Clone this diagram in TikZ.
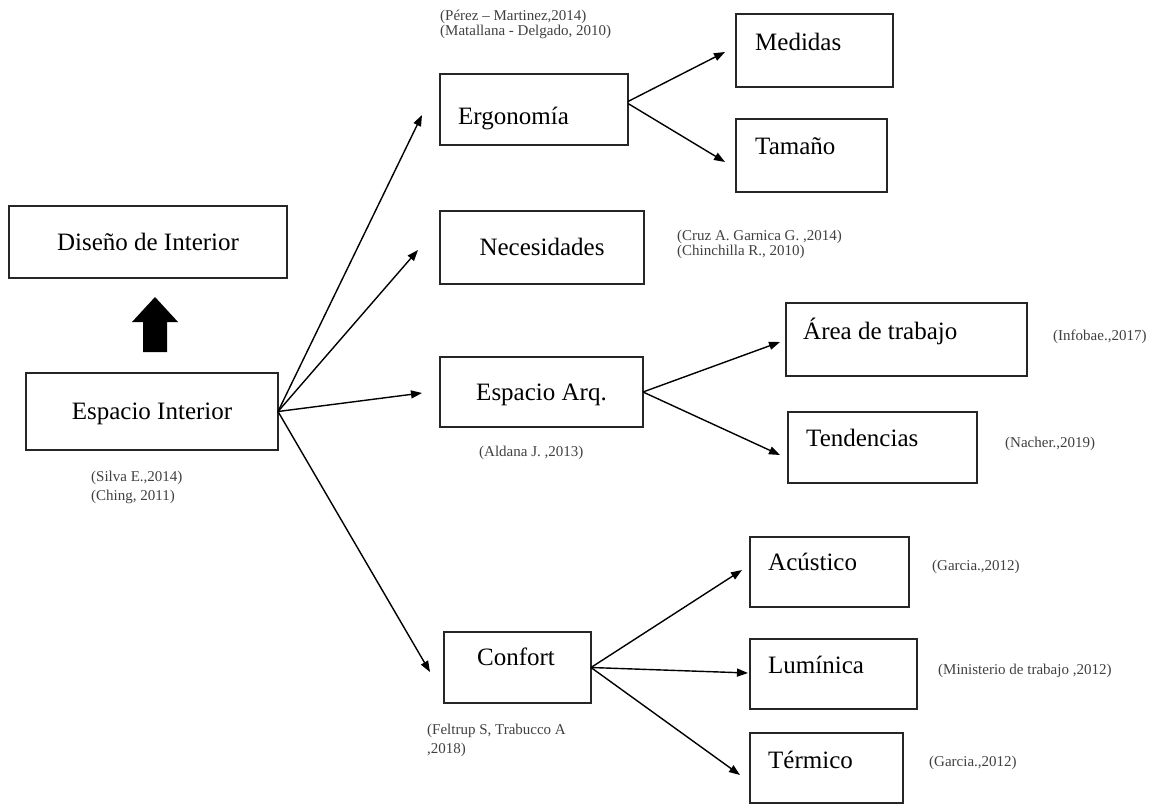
\documentclass[tikz,border=0pt]{standalone}
\usepackage{fontspec}
\setmainfont{Liberation Serif}
\usetikzlibrary{arrows.meta}

\begin{document}
\begin{tikzpicture}[x=1pt,y=-1pt,
  kasten/.style={draw=black!85,line width=1.8pt,inner sep=0pt,outer sep=0pt,
    font=\fontsize{25}{30}\selectfont,text height=20pt,text depth=4pt},
  titel/.style={anchor=west,inner sep=0pt,font=\fontsize{25}{30}\selectfont,
    text height=20pt,text depth=4pt},
  quelle/.style={anchor=west,inner sep=0pt,align=left,text=black!75,
    font=\fontsize{15}{15}\selectfont},
  pfeil/.style={line width=1.4pt,-{Triangle[length=11pt,width=8pt]}}]
  \useasboundingbox (0,0) rectangle (1155,805);
%Kästen
  \node[kasten,minimum width=278pt,minimum height=72pt] (dis) at (148,242) {Diseño de Interior};
  \node[kasten,minimum width=252pt,minimum height=77pt] (ei) at (152,411.5) {Espacio Interior};
  \node[kasten,minimum width=188pt,minimum height=71pt] (ergo) at (534,109.5) {};
  \node[kasten,minimum width=157pt,minimum height=73pt] (med) at (814.5,50.5) {};
  \node[kasten,minimum width=151pt,minimum height=73pt] (tam) at (811.5,155.5) {};
  \node[kasten,minimum width=204pt,minimum height=73pt] (nec) at (542,247.5) {Necesidades};
  \node[kasten,minimum width=203pt,minimum height=70pt] (arq) at (541.5,392) {Espacio Arq.};
  \node[kasten,minimum width=241pt,minimum height=73pt] (area) at (906.5,339.5) {};
  \node[kasten,minimum width=189pt,minimum height=71pt] (tend) at (882.5,447.5) {};
  \node[kasten,minimum width=147pt,minimum height=71pt] (conf) at (517.5,667.5) {};
  \node[kasten,minimum width=159pt,minimum height=70pt] (acu) at (829.5,572) {};
  \node[kasten,minimum width=167pt,minimum height=70pt] (lum) at (833.5,674) {};
  \node[kasten,minimum width=153pt,minimum height=70pt] (ter) at (826.5,768) {};
%Beschriftung
  \node[titel] (ergo-t) at (458,117) {Ergonomía};
  \node[titel] (med-t) at (755,43) {Medidas};
  \node[titel] (tam-t) at (755,147) {Tamaño};
  \node[titel] (area-t) at (803,331) {Área de trabajo};
  \node[titel] (tend-t) at (806,438) {Tendencias};
  \node[titel,anchor=center] (conf-t) at (516,657) {Confort};
  \node[titel] (acu-t) at (768,562) {Acústico};
  \node[titel] (lum-t) at (768,665) {Lumínica};
  \node[titel] (ter-t) at (768,760) {Térmico};
%Quellen
  \node[quelle] (q-ergo) at (440,24.5) {(Pérez – Martinez,2014)\\(Matallana - Delgado, 2010)};
  \node[quelle] (q-nec) at (677,244.5) {(Cruz A. Garnica G. ,2014)\\(Chinchilla R., 2010)};
  \node[quelle] (q-area) at (1053,337) {(Infobae.,2017)};
  \node[quelle] (q-arq) at (479,453) {(Aldana J. ,2013)};
  \node[quelle] (q-tend) at (1005,444) {(Nacher.,2019)};
  \node[quelle,font=\fontsize{15}{19}\selectfont] (q-ei) at (91,487.5) {(Silva E.,2014)\\(Ching, 2011)};
  \node[quelle,font=\fontsize{15}{19}\selectfont] (q-conf) at (427,740.5) {(Feltrup S, Trabucco A\\,2018)};
  \node[quelle] (q-acu) at (932,567) {(Garcia.,2012)};
  \node[quelle] (q-lum) at (938,671) {(Ministerio de trabajo ,2012)};
  \node[quelle] (q-ter) at (929,763) {(Garcia.,2012)};
%Blockpfeil
  \fill (143,352) -- (143,322) -- (132,322) -- (155,297) -- (178,322) -- (167,322) -- (167,352) -- cycle;
%Pfeile
  \coordinate (ergo-in) at (422,115);
  \coordinate (nec-in) at (418,250);
  \coordinate (arq-in) at (422,393);
  \coordinate (conf-in) at (430,672);
  \coordinate (med-in) at (725,52);
  \coordinate (tam-in) at (725,162);
  \coordinate (area-in) at (780,342);
  \coordinate (tend-in) at (780,455);
  \coordinate (acu-in) at (742,570);
  \coordinate (lum-in) at (748,673);
  \coordinate (ter-in) at (740,775);
  \draw[pfeil] (ei.east) -- (ergo-in);
  \draw[pfeil] (ei.east) -- (nec-in);
  \draw[pfeil] (ei.east) -- (arq-in);
  \draw[pfeil] (ei.east) -- (conf-in);
  \draw[pfeil] ([yshift=8pt]ergo.east) -- (med-in);
  \draw[pfeil] ([yshift=6pt]ergo.east) -- (tam-in);
  \draw[pfeil] (arq.east) -- (area-in);
  \draw[pfeil] (arq.east) -- (tend-in);
  \draw[pfeil] (conf.east) -- (acu-in);
  \draw[pfeil] (conf.east) -- (lum-in);
  \draw[pfeil] (conf.east) -- (ter-in);
\end{tikzpicture}
\end{document}
